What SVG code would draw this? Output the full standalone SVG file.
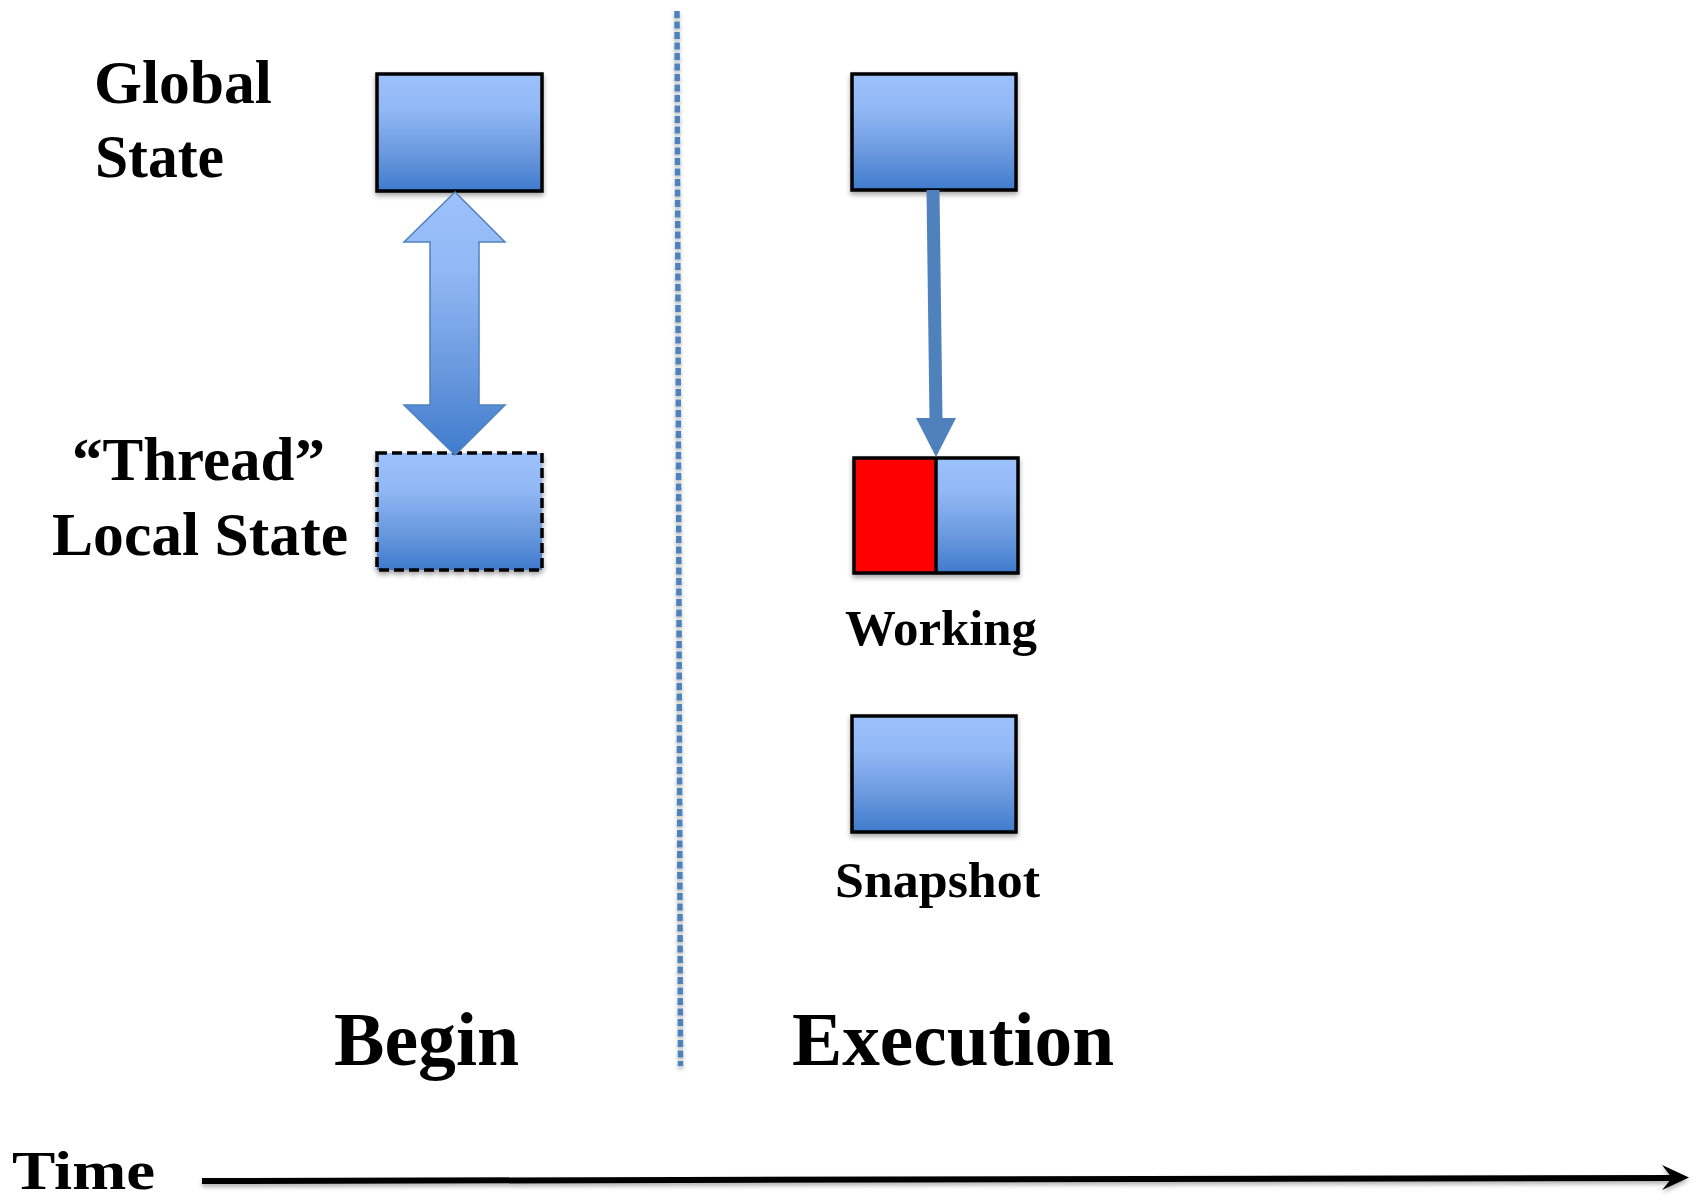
<svg xmlns="http://www.w3.org/2000/svg" width="1696" height="1202" viewBox="0 0 1696 1202">
  <defs>
    <linearGradient id="blueFill" x1="0" y1="0" x2="0" y2="1">
      <stop offset="0" stop-color="#9cc1fc"/>
      <stop offset="0.3" stop-color="#92b8f5"/>
      <stop offset="0.7" stop-color="#6797dd"/>
      <stop offset="1" stop-color="#3f7bcc"/>
    </linearGradient>
    <filter id="shadow" x="-10%" y="-10%" width="125%" height="130%">
      <feDropShadow dx="0" dy="3" stdDeviation="2.5" flood-color="#000" flood-opacity="0.35"/>
    </filter>
    <filter id="lineShadow" filterUnits="userSpaceOnUse" x="0" y="0" width="1696" height="1202">
      <feDropShadow dx="0" dy="3" stdDeviation="2" flood-color="#000" flood-opacity="0.3"/>
    </filter>
  </defs>
  <style>
    .box { fill: url(#blueFill); stroke: #000; stroke-width: 3.5; filter: url(#shadow); }
    .dashed { stroke-dasharray: 10 5; }
    .lbl { font-family: "Liberation Serif", "Times New Roman", serif; font-weight: bold; fill: #000; }
    .side { font-size: 61px; }
    .small { font-size: 50px; }
    .phase { font-size: 76px; }
  </style>

  <rect width="1696" height="1202" fill="#fff"/>

  <!-- Phase divider -->
  <g id="divider">
    <line x1="677" y1="11" x2="680.5" y2="1066" stroke="#4f81bd" stroke-width="5.5" stroke-dasharray="7 3.5" filter="url(#lineShadow)"/>
  </g>

  <!-- Begin phase -->
  <g id="global-state-begin">
    <rect class="box" x="377" y="74" width="165" height="117"/>
  </g>
  <g id="thread-local-state">
    <rect class="box dashed" x="377" y="453" width="165" height="117"/>
  </g>

  <!-- Execution phase -->
  <g id="global-state-exec">
    <rect class="box" x="852" y="74" width="164" height="116"/>
  </g>
  <g id="working">
    <g filter="url(#shadow)">
      <rect x="854" y="458" width="82" height="115" fill="#ff0000"/>
      <rect x="936" y="458" width="82" height="115" fill="url(#blueFill)"/>
      <rect x="854" y="458" width="164" height="115" fill="none" stroke="#000" stroke-width="3.5"/>
      <line x1="936" y1="458" x2="936" y2="573" stroke="#000" stroke-width="3.5"/>
    </g>
    <text class="lbl small" x="845" y="645" textLength="192" lengthAdjust="spacingAndGlyphs">Working</text>
  </g>
  <g id="snapshot">
    <rect class="box" x="852" y="716" width="164" height="116"/>
    <text class="lbl small" x="835" y="897" textLength="205" lengthAdjust="spacingAndGlyphs">Snapshot</text>
  </g>

  <!-- Connectors -->
  <g id="connectors">
    <polygon points="455,192 505,242 479,242 479,405 505,405 455,455 404,405 430,405 430,242 404,242"
             fill="url(#blueFill)" stroke="#4f81bd" stroke-width="1.5" stroke-linejoin="miter"/>
    <line x1="933" y1="190" x2="936" y2="420" stroke="#4f81bd" stroke-width="13"/>
    <polygon points="916,418 956,418 936,457" fill="#4f81bd"/>
    <g filter="url(#lineShadow)">
      <line x1="202" y1="1181" x2="1676" y2="1178" stroke="#000" stroke-width="6"/>
      <polygon points="1662,1165 1689,1177.5 1662,1190 1672,1178" fill="#000"/>
    </g>
  </g>

  <!-- Side labels -->
  <text class="lbl side" x="94" y="103" textLength="178" lengthAdjust="spacingAndGlyphs">Global</text>
  <text class="lbl side" x="95" y="177" textLength="129" lengthAdjust="spacingAndGlyphs">State</text>
  <text class="lbl side" x="72" y="480" textLength="253" lengthAdjust="spacingAndGlyphs">“Thread”</text>
  <text class="lbl side" x="52" y="555" textLength="296" lengthAdjust="spacingAndGlyphs">Local State</text>

  <!-- Phase labels -->
  <text class="lbl phase" x="334" y="1065" textLength="185" lengthAdjust="spacingAndGlyphs">Begin</text>
  <text class="lbl phase" x="792" y="1065" textLength="322" lengthAdjust="spacingAndGlyphs">Execution</text>

  <!-- Time axis label -->
  <text class="lbl" x="12" y="1189" font-size="54" textLength="143" lengthAdjust="spacingAndGlyphs">Time</text>
</svg>
